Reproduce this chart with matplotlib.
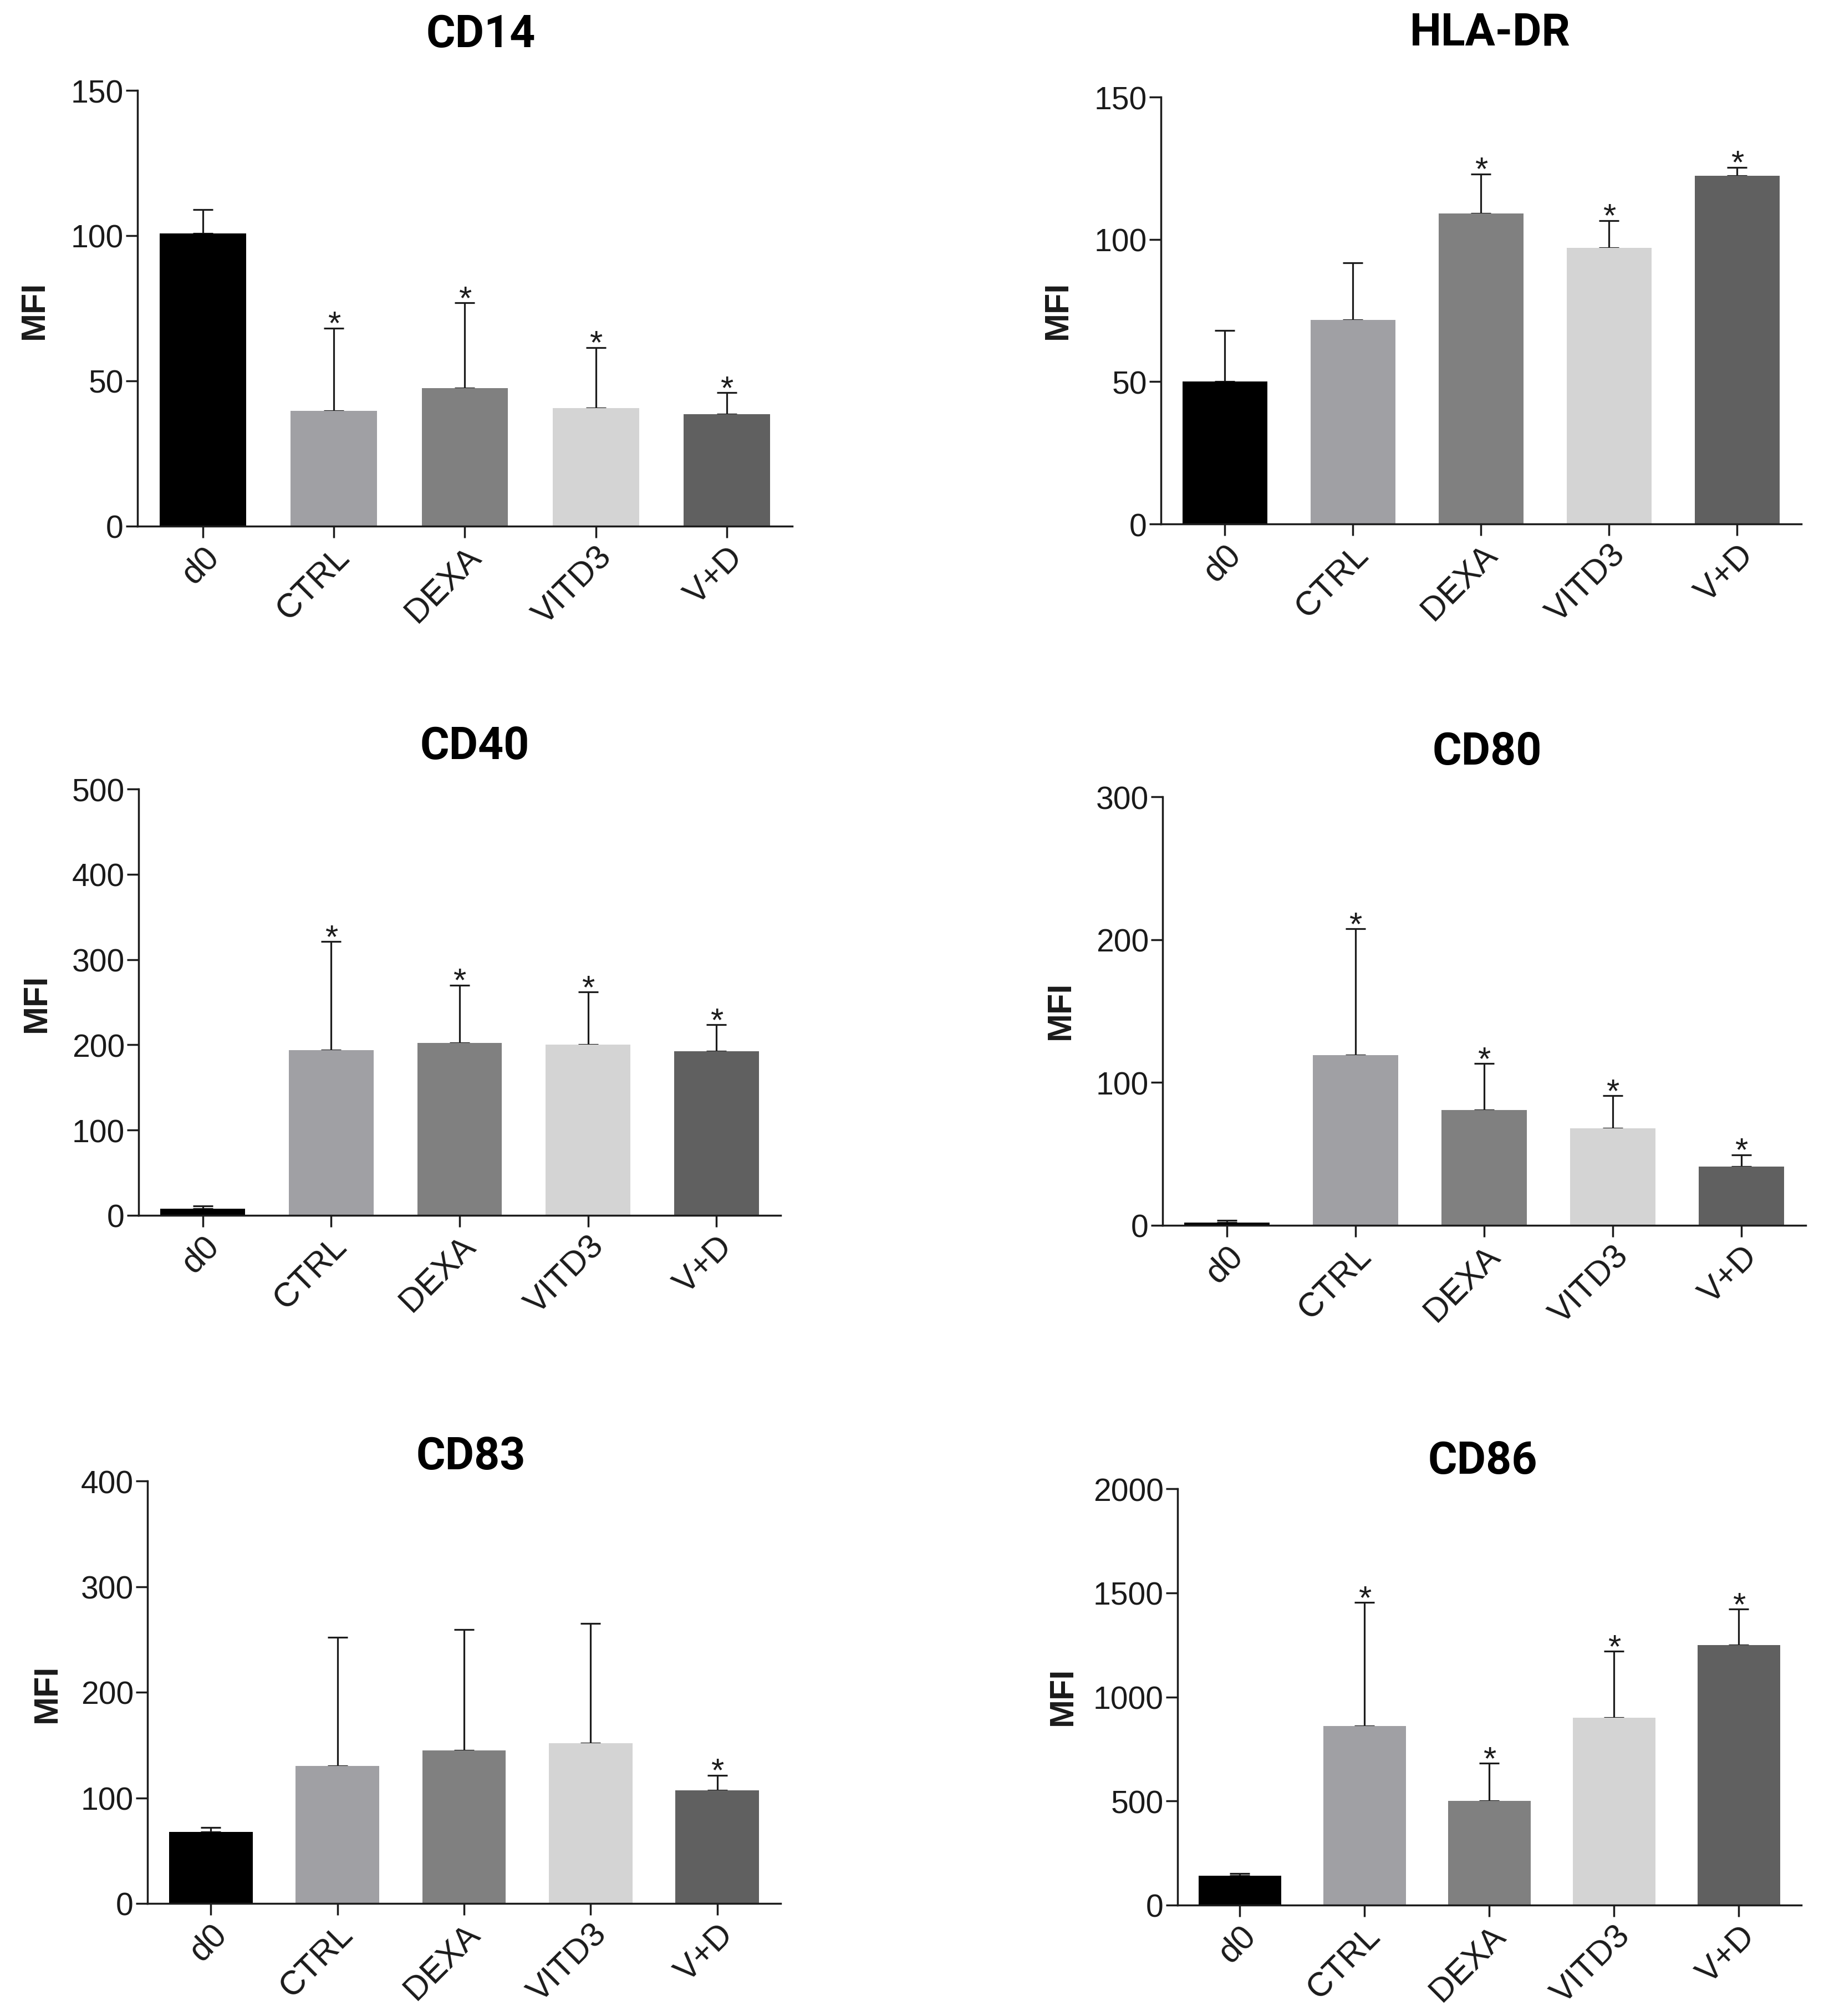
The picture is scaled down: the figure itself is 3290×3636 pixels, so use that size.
import matplotlib
matplotlib.use("Agg")
import matplotlib.pyplot as plt
import matplotlib.transforms as mtransforms
import numpy as np

# ---------------- data ----------------
groups = ["d0", "CTRL", "DEXA", "VITD3", "V+D"]
bar_colors = ["#000000", "#a0a0a4", "#808080", "#d4d4d4", "#606060"]

titles = ["CD14", "HLA-DR", "CD40", "CD80", "CD83", "CD86"]

cd14_mean = [100.8, 39.7, 47.5, 40.7, 38.6]
cd14_top = [108.9, 68.2, 76.9, 61.5, 45.9]
cd14_star = [False, True, True, True, True]

hladr_mean = [50.0, 71.6, 109.0, 97.1, 122.3]
hladr_top = [68.0, 91.7, 123.0, 106.6, 125.3]
hladr_star = [False, False, True, True, True]

cd40_mean = [8, 194, 202.5, 200, 192.5]
cd40_top = [11, 321, 270, 262, 223.5]
cd40_star = [False, True, True, True, True]

cd80_mean = [2, 119.3, 80.6, 68.0, 41.0]
cd80_top = [3.4, 207.5, 113.3, 90.8, 49.4]
cd80_star = [False, True, True, True, True]

cd83_mean = [67.6, 130.2, 144.7, 151.9, 107.3]
cd83_top = [72.1, 251.9, 259.5, 265.3, 121.4]
cd83_star = [False, False, False, False, True]

cd86_mean = [142, 860, 500, 900, 1249]
cd86_top = [152, 1453, 681, 1219, 1422]
cd86_star = [False, True, True, True, True]

y_ticks = [
    [0, 50, 100, 150],
    [0, 50, 100, 150],
    [0, 100, 200, 300, 400, 500],
    [0, 100, 200, 300],
    [0, 100, 200, 300, 400],
    [0, 500, 1000, 1500, 2000],
]

# ---------------- layout (pixels) ----------------
W, H = 3291, 3637
# left, right, top, bottom of each plotting area
boxes = [
    (248, 1429, 164, 950),
    (2094, 3249, 176, 946),
    (250, 1408, 1424, 2193),
    (2097, 3257, 1438, 2211),
    (266, 1408, 2672, 3434),
    (2124, 3249, 2686, 3437),
]
title_pos = [(867, 63), (2688, 59), (856, 1347), (2682, 1357), (849, 2628), (2674, 2636)]
ylab_pos = [(62, 559), (1908, 559), (66, 1809), (1913, 1822), (85, 3054), (1917, 3059)]

panels = [
    (cd14_mean, cd14_top, cd14_star),
    (hladr_mean, hladr_top, hladr_star),
    (cd40_mean, cd40_top, cd40_star),
    (cd80_mean, cd80_top, cd80_star),
    (cd83_mean, cd83_top, cd83_star),
    (cd86_mean, cd86_top, cd86_star),
]

fig = plt.figure(figsize=(W / 100, H / 100), dpi=100, facecolor="white")

line_c = "#1c1c1c"
num_font = "Liberation Sans"
shift = mtransforms.ScaledTranslation(-26 / 100, -6 / 100, fig.dpi_scale_trans)

for k, ((means, tops, stars), (l, r, t, b)) in enumerate(zip(panels, boxes)):
    ax = fig.add_axes([l / W, 1 - b / H, (r - l) / W, (b - t) / H])
    ax.set_facecolor("none")
    x = np.arange(len(groups))
    means = np.array(means, dtype=float)
    tops = np.array(tops, dtype=float)
    ax.errorbar(x, means, yerr=[np.zeros_like(means), tops - means], fmt="none",
                ecolor=line_c, elinewidth=2.3, capsize=13, capthick=2.3, zorder=1)
    ax.bar(x, means, width=0.66, color=bar_colors, edgecolor="none", zorder=2)
    for i, s in enumerate(stars):
        if s:
            ax.annotate("*", xy=(i, tops[i]), xytext=(0, -7), textcoords="offset points",
                        ha="center", va="baseline", fontsize=43, family=num_font,
                        color=line_c)
    ax.set_xlim(-0.5, 4.5)
    ax.set_ylim(0, y_ticks[k][-1])
    ax.set_yticks(y_ticks[k])
    ax.set_yticklabels([str(v) for v in y_ticks[k]], fontsize=41, family=num_font,
                       color="#1a1a1a")
    ax.set_xticks(x)
    ax.set_xticklabels(groups, fontsize=44, family=num_font, color="#1a1a1a",
                       rotation=45, ha="right", va="top", rotation_mode="anchor")
    for lab in ax.get_xticklabels():
        lab.set_transform(lab.get_transform() + shift)
    for sp in ["top", "right"]:
        ax.spines[sp].set_visible(False)
    for sp in ["left", "bottom"]:
        ax.spines[sp].set_linewidth(2.5)
        ax.spines[sp].set_color(line_c)
    ax.tick_params(axis="y", length=15, width=2.5, color=line_c, pad=3)
    ax.tick_params(axis="x", length=15, width=2.5, color=line_c, pad=4)

    tx, ty = title_pos[k]
    fig.text(tx / W, 1 - ty / H, titles[k], ha="center", va="center",
             fontsize=58, fontweight="bold", family="Roboto", color="black")
    lx, ly = ylab_pos[k]
    fig.text(lx / W, 1 - ly / H, "MFI", ha="center", va="center", rotation=90,
             fontsize=44, fontweight="bold", family=num_font, color="#1a1a1a")

fig.savefig("out.png", dpi=100, facecolor="white")
